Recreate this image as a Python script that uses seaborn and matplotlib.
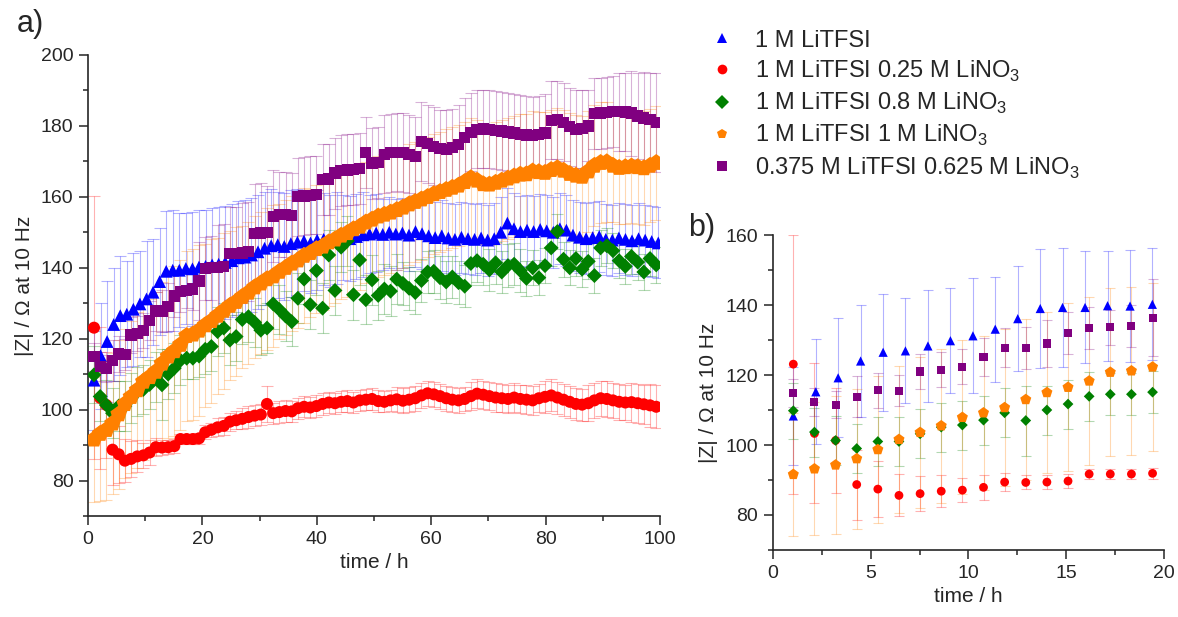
"""Impedance |Z| at 10 Hz vs time for LiTFSI / LiNO3 electrolytes (a: 0-100 h, b: first 20 h)."""

import numpy as np
import pandas as pd
import matplotlib
matplotlib.use("Agg")
import matplotlib.pyplot as plt
from matplotlib.lines import Line2D
from matplotlib.ticker import MultipleLocator
import seaborn as sns

# measurement time stamps (h); the pure LiTFSI cell was sampled a bit slower
t_common = np.round(1.05 + 1.08 * np.arange(92), 2)
t_litfsi = np.round(1.05 + 1.147 * np.arange(87), 2)

labels = [
    "1 M LiTFSI",
    "1 M LiTFSI 0.25 M LiNO$_\\mathregular{3}$",
    "1 M LiTFSI 0.8 M LiNO$_\\mathregular{3}$",
    "1 M LiTFSI 1 M LiNO$_\\mathregular{3}$",
    "0.375 M LiTFSI 0.625 M LiNO$_\\mathregular{3}$",
]
colors = ["#0000FF", "#FF0000", "#008000", "#FF8000", "#800080"]
markers = ["^", "o", "D", "p", "s"]

z_litfsi = [
    108.3, 115.2, 119.2, 124.0, 126.5, 126.9, 128.3, 129.8, 131.2, 133.1,
    136.1, 139.0, 139.3, 139.3, 139.8, 139.7, 140.2, 140.4, 140.8, 141.0,
    141.5, 142.0, 142.8, 143.0, 143.6, 144.5, 145.5, 146.2, 146.5, 146.0,
    146.8, 147.2, 147.5, 147.0, 147.8, 148.0, 147.6, 148.3, 148.6, 148.2,
    148.8, 149.3, 149.5, 149.8, 149.4, 150.0, 149.5, 149.8, 149.2, 150.2,
    149.6, 149.0, 148.5, 149.0, 148.4, 148.0, 148.6, 148.2, 148.0, 148.4,
    147.8, 148.2, 150.0, 152.6, 151.0, 150.2, 150.6, 150.2, 150.8, 150.4,
    150.0, 151.0, 150.6, 149.2, 148.6, 148.2, 148.5, 148.8, 148.0, 147.8,
    148.4, 148.0, 147.6, 148.2, 147.8, 147.4, 147.0,
]
err_litfsi = [
    14, 15, 17, 16, 16.7, 15, 16, 15, 16.4, 15,
    15, 17, 17, 16, 15.7, 16, 16, 16, 16, 16,
    16, 16, 16, 16, 16, 16, 16, 16, 15, 15,
    15, 15, 14, 14, 14, 13, 13, 13, 12, 12,
    12, 12, 11, 11, 10, 10, 10, 10, 10, 10,
    10, 10, 10, 10, 10, 10, 10, 10, 10, 10,
    10, 10, 10, 10, 10, 10, 10, 10, 10, 10,
    10, 10, 10, 10, 10, 10, 10, 10, 10, 10,
    10, 10, 10, 10, 10, 10, 10,
]

z_025 = [
    123.1, 103.3, 101.3, 88.7, 87.4, 85.6, 86.1, 86.8, 87.1, 87.9,
    89.4, 89.3, 89.4, 89.7, 91.7, 91.7, 91.7, 91.9, 93.6, 94.3,
    95.0, 95.4, 96.6, 97.0, 97.4, 97.9, 98.3, 98.6, 101.6, 99.0,
    99.3, 99.6, 99.5, 100.4, 100.8, 100.6, 101.0, 101.6, 102.0, 101.8,
    102.2, 102.4, 102.0, 102.6, 102.8, 103.0, 102.4, 102.2, 102.6, 102.9,
    102.5, 102.8, 103.2, 104.0, 104.6, 104.3, 103.8, 103.2, 102.8, 102.6,
    103.0, 103.8, 104.5, 104.2, 103.8, 103.4, 103.2, 103.0, 103.4, 103.0,
    102.8, 102.6, 103.2, 103.6, 104.0, 103.4, 102.8, 102.2, 101.6, 101.4,
    101.8, 102.6, 103.2, 103.0, 102.6, 102.2, 102.0, 102.1, 101.8, 101.5,
    101.2, 100.8,
]
err_025 = [
    37, 20, 15, 10, 8, 6, 5, 4.5, 3.5, 3.5,
    2.5, 2, 2, 2, 1.5, 1.5, 1.5, 1.5, 2, 2,
    2.5, 2.5, 2.5, 2.5, 3, 3, 3, 3, 5, 3,
    3, 3, 3, 3, 3, 3, 3, 3, 3, 3,
    3, 3, 3, 3, 3, 3, 3, 3, 3, 3.5,
    3.5, 3.5, 3.5, 3.5, 3.5, 3.5, 3.5, 3.5, 3.5, 3.5,
    3.5, 4, 4, 4, 4, 4, 4, 4, 4, 4,
    4, 4, 4, 4.5, 4.5, 4.5, 4.5, 4.5, 4.5, 4.5,
    5, 5, 5, 5, 5, 5, 5, 5.5, 5.5, 5.5,
    6, 6,
]

z_08 = [
    109.8, 103.7, 101.3, 99.0, 101.0, 101.0, 103.2, 105.1, 105.7, 107.1,
    109.2, 107.0, 110.0, 111.7, 113.9, 114.5, 114.5, 115.1, 117.0, 117.8,
    122.0, 123.0, 119.6, 120.6, 125.4, 126.2, 124.6, 122.4, 123.0, 129.8,
    128.2, 126.4, 124.8, 131.4, 136.8, 129.6, 139.2, 128.6, 143.6, 133.6,
    145.8, 147.6, 132.4, 142.2, 131.0, 136.6, 132.2, 134.0, 133.4, 136.8,
    135.6, 134.2, 133.0, 136.4, 138.8, 139.0, 137.2, 136.0, 137.4, 135.8,
    134.8, 141.2, 142.0, 141.0, 139.4, 141.4, 138.8, 140.6, 141.0, 139.2,
    137.0, 140.0, 137.2, 140.6, 145.6, 150.2, 142.4, 140.0, 142.6, 139.6,
    141.8, 137.8, 145.6, 146.2, 144.8, 142.0, 140.4, 143.2, 141.6, 138.8,
    142.6, 140.8,
]
err_08 = [
    8, 7, 7, 7, 7, 7, 7, 7, 7, 7,
    7, 10, 7, 7, 7, 6, 6, 6, 7, 7,
    7, 7, 7, 7, 7, 7, 7, 7, 7, 7,
    7, 7, 7, 7, 7, 7, 7, 7, 7, 7,
    7, 7, 7, 7, 7, 7, 7, 7, 7, 7,
    6, 6, 6, 6, 6, 6, 6, 6, 6, 6,
    6, 6, 6, 6, 6, 6, 6, 6, 6, 6,
    5, 5, 5, 5, 5, 5, 5, 5, 5, 5,
    5, 5, 5, 5, 5, 5, 5, 5, 5, 5,
    5, 5,
]

z_1 = [
    91.6, 93.2, 94.3, 96.1, 98.7, 101.6, 103.6, 105.5, 107.9, 109.2,
    110.7, 113.0, 115.0, 116.5, 118.3, 120.8, 121.2, 122.3, 123.8, 125.0,
    126.5, 127.9, 129.3, 130.4, 131.8, 133.0, 134.5, 135.6, 136.8, 137.6,
    138.9, 140.0, 141.2, 142.1, 143.4, 144.2, 145.3, 146.0, 147.2, 148.0,
    149.1, 149.8, 150.9, 151.6, 152.8, 153.6, 154.5, 155.0, 155.6, 156.3,
    157.0, 157.9, 158.6, 159.3, 160.0, 160.8, 161.4, 162.0, 162.6, 163.2,
    164.2, 165.3, 164.6, 163.6, 163.5, 164.0, 164.6, 165.2, 165.8, 166.3,
    166.4, 167.2, 167.0, 166.8, 167.6, 168.1, 167.4, 166.5, 166.0, 165.7,
    167.2, 168.8, 169.6, 169.8, 168.8, 168.2, 168.4, 168.6, 168.4, 168.1,
    168.8, 169.6,
]
err_1 = [
    17.6, 19, 19.7, 20, 21, 21, 21.5, 22, 22, 22,
    22.5, 23, 23, 24, 24, 24, 24, 24, 23, 23,
    22, 22, 21, 21, 20, 20, 20, 20, 20, 20,
    19, 19, 19, 19, 19, 18, 18, 18, 18, 18,
    18, 18, 18, 18, 17, 17, 17, 17, 17, 17,
    17, 17, 17, 17, 17, 17, 17, 17, 17, 17,
    17, 17, 17, 17, 17, 17, 17, 17, 17, 17,
    17, 17, 17, 17, 17, 17, 17, 17, 17, 17,
    17, 17, 17, 17, 16, 16, 16, 16, 16, 16,
    16, 16,
]

z_0375 = [
    114.9, 112.2, 111.5, 113.8, 115.7, 115.5, 121.0, 121.5, 122.3, 125.2,
    127.8, 127.8, 129.0, 132.0, 133.4, 133.6, 134.0, 136.3, 139.8, 140.0,
    140.1, 140.3, 144.0, 144.1, 144.2, 144.5, 149.6, 149.8, 150.0, 154.5,
    155.1, 155.0, 154.8, 160.0, 160.2, 160.4, 160.6, 164.8, 165.0, 166.7,
    167.4, 167.6, 167.8, 168.0, 172.4, 169.5, 169.6, 172.0, 172.4, 172.6,
    172.5, 172.0, 171.4, 175.6, 175.0, 174.2, 173.6, 173.4, 173.9, 174.8,
    176.8, 178.2, 179.0, 179.1, 179.0, 178.8, 178.6, 178.3, 178.0, 177.6,
    177.4, 177.2, 177.5, 178.0, 181.6, 181.8, 181.0, 179.8, 179.0, 179.2,
    180.0, 183.4, 183.6, 183.8, 184.0, 184.0, 183.9, 183.6, 182.8, 182.2,
    181.8, 181.0,
]
err_0375 = [
    4, 4, 3.8, 5.8, 5, 4.4, 5, 5, 5, 5.5,
    5.5, 6, 6.7, 6, 6, 5, 6, 11, 9, 9,
    12, 12, 13, 13, 14, 14, 14, 14, 13, 13,
    12, 12, 12, 11, 11, 11, 11, 10, 10, 10,
    10, 10, 10, 10, 10, 10, 10, 11, 11, 11,
    11, 11, 11, 11, 11, 11, 11, 11, 11, 11,
    11, 11, 11, 11, 11, 11, 11, 11, 11, 11,
    11, 11, 11, 11, 11, 11, 11, 11, 11, 11,
    10, 10, 10, 10, 10, 11, 11, 12, 12, 13,
    13, 14,
]

series = [
    (labels[0], t_litfsi, z_litfsi, err_litfsi),
    (labels[1], t_common, z_025, err_025),
    (labels[2], t_common, z_08, err_08),
    (labels[3], t_common, z_1, err_1),
    (labels[4], t_common, z_0375, err_0375),
]
df = pd.concat(
    [pd.DataFrame({"time": t, "Z": z, "err": e, "label": lab}) for lab, t, z, e in series],
    ignore_index=True,
)

sns.set_style("ticks")
plt.rcParams["font.family"] = ["Liberation Sans", "DejaVu Sans"]
plt.rcParams["mathtext.fontset"] = "custom"
plt.rcParams["mathtext.rm"] = "Liberation Sans"
plt.rcParams["axes.linewidth"] = 1.2

palette = dict(zip(labels, colors))
marker_map = dict(zip(labels, markers))
# marker areas (pt^2) so that the different shapes look equally big
sizes_a = dict(zip(labels, [85, 75, 58, 160, 66]))
sizes_b = dict(zip(labels, [44, 40, 30, 70, 34]))

fig = plt.figure(figsize=(11.78, 6.17), dpi=100)
ax_a = fig.add_axes([0.0747, 0.1637, 0.4856, 0.7472])
ax_b = fig.add_axes([0.656, 0.1086, 0.3322, 0.5105])


def draw(ax, data, sizes, cap):
    for lab in labels:
        sub = data[data["label"] == lab]
        ax.errorbar(sub["time"], sub["Z"], yerr=sub["err"], fmt="none",
                    ecolor=palette[lab], elinewidth=0.8, capsize=cap,
                    capthick=0.8, alpha=0.3, zorder=1)
    sns.scatterplot(data=data, x="time", y="Z", hue="label", style="label",
                    size="label", sizes=sizes, size_order=labels,
                    palette=palette, markers=marker_map, hue_order=labels,
                    style_order=labels, linewidth=0, legend=False,
                    ax=ax, zorder=3)


draw(ax_a, df, sizes_a, 4)
draw(ax_b, df[df["time"] < 20], sizes_b, 3.5)

ax_a.set_xlim(0, 100)
ax_a.set_ylim(70, 200)
ax_a.set_xticks(np.arange(0, 101, 20))
ax_a.set_yticks(np.arange(80, 201, 20))
ax_a.xaxis.set_minor_locator(MultipleLocator(10))
ax_a.yaxis.set_minor_locator(MultipleLocator(10))

ax_b.set_xlim(0, 20)
ax_b.set_ylim(70, 160)
ax_b.set_xticks(np.arange(0, 21, 5))
ax_b.set_yticks(np.arange(80, 161, 20))
ax_b.xaxis.set_minor_locator(MultipleLocator(2.5))
ax_b.yaxis.set_minor_locator(MultipleLocator(10))

for ax in (ax_a, ax_b):
    sns.despine(ax=ax)
    ax.tick_params(which="major", direction="out", length=6.5, width=1.1,
                   labelsize=14, pad=4)
    ax.tick_params(which="minor", direction="out", length=3.5, width=1.1)
    ax.set_xlabel("time / h", fontsize=15)
    ax.set_ylabel("|Z| / Ω at 10 Hz", fontsize=15, labelpad=5)

fig.text(0.014, 0.985, "a)", fontsize=22, va="top", ha="left")
fig.text(0.584, 0.655, "b)", fontsize=22, va="top", ha="left")

handles = [Line2D([], [], linestyle="none", marker=m, color=c, markersize=7,
                  markeredgewidth=0) for m, c in zip(markers, colors)]
fig.legend(handles, labels, loc="upper left", bbox_to_anchor=(0.6025, 0.952),
           frameon=False, fontsize=17, handlelength=1.0, handletextpad=0.9,
           labelspacing=0.3, borderaxespad=0, borderpad=0)

fig.savefig("out.png", dpi=100)
